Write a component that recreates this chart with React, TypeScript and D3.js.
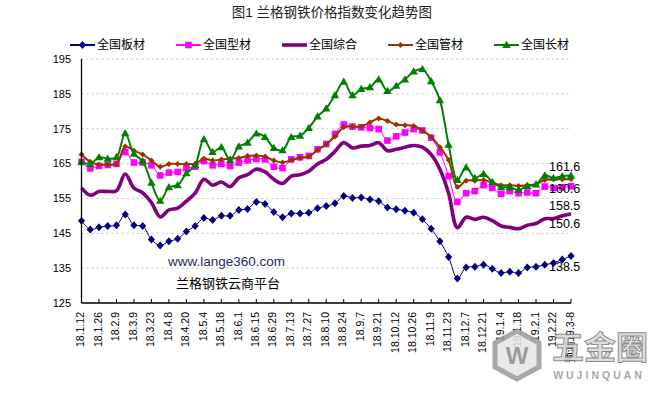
import React from "react";
import * as d3 from "d3";

// tick labels (every second weekly point gets one)
const tickLabels = [
  "18.1.12", "18.1.26", "18.2.9", "18.3.9", "18.3.23", "18.4.8", "18.4.20",
  "18.5.4", "18.5.18", "18.6.1", "18.6.15", "18.6.29", "18.7.13", "18.7.27",
  "18.8.10", "18.8.24", "18.9.7", "18.9.21", "18.10.12", "18.10.26", "18.11.9",
  "18.11.23", "18.12.7", "18.12.21", "19.1.4", "19.1.18", "19.2.1", "19.2.22",
  "预测19.3-8",
];

const plate = [
  148.6, 146.1, 146.7, 147.1, 147.3, 150.4, 147.3, 147.1, 143.2, 141.5,
  142.7, 143.4, 145.5, 147.1, 149.4, 148.8, 150.0, 150.0, 151.7, 152.0,
  154.0, 153.4, 151.1, 149.6, 150.7, 150.7, 150.9, 152.2, 152.8, 153.6,
  155.7, 155.1, 155.3, 154.7, 154.2, 152.4, 151.9, 151.5, 150.9, 149.0,
  146.3, 142.7, 138.2, 132.0, 135.2, 135.4, 136.0, 134.8, 133.6, 134.0,
  133.6, 135.2, 135.4, 136.0, 136.5, 137.5, 138.5,
];
const section = [
  165.5, 163.6, 164.3, 164.6, 164.9, 168.3, 165.3, 165.3, 164.5, 161.6,
  162.4, 162.6, 163.7, 164.1, 165.7, 164.5, 164.9, 164.3, 165.3, 165.9,
  166.3, 166.2, 164.1, 163.7, 166.2, 166.8, 167.2, 169.1, 170.6, 173.5,
  176.2, 175.6, 175.4, 175.2, 174.9, 171.6, 172.8, 173.9, 174.9, 174.5,
  172.4, 168.2, 161.4, 154.0, 156.5, 157.1, 158.8, 158.0, 156.3, 157.1,
  156.5, 156.7, 156.5, 158.4, 158.0, 158.2, 158.5,
];
const composite = [
  158.0, 155.9, 157.0, 157.0, 157.2, 162.0, 158.0, 156.6, 153.8, 149.7,
  151.7, 152.2, 154.2, 156.5, 160.5, 158.8, 159.7, 158.4, 160.9, 161.8,
  163.4, 162.6, 160.5, 159.3, 161.4, 161.8, 162.8, 164.9, 166.2, 168.5,
  171.0, 169.5, 170.0, 170.2, 171.0, 168.7, 169.1, 169.7, 170.2, 169.7,
  167.6, 163.4, 156.5, 146.6, 149.6, 149.0, 149.6, 148.6, 147.1, 146.7,
  146.3, 147.3, 147.8, 149.2, 149.2, 150.0, 150.6,
];
const pipe = [
  167.6, 165.5, 164.7, 164.7, 164.9, 169.9, 168.7, 167.6, 165.9, 164.1,
  164.9, 164.9, 164.9, 164.9, 166.4, 165.9, 166.2, 166.4, 166.6, 167.2,
  167.3, 167.0, 165.9, 165.3, 166.0, 166.6, 167.0, 168.9, 170.5, 172.8,
  175.4, 175.6, 175.6, 176.8, 177.9, 177.2, 176.2, 176.0, 175.8, 174.5,
  172.6, 169.7, 166.0, 158.3, 160.1, 160.1, 160.3, 159.5, 158.8, 158.8,
  158.6, 158.8, 159.1, 160.3, 160.5, 160.5, 160.6,
];
const longProd = [
  165.5, 164.9, 166.8, 166.4, 166.8, 173.7, 167.8, 165.7, 159.5, 154.3,
  158.2, 158.8, 162.2, 164.5, 172.0, 168.3, 169.7, 166.0, 169.9, 171.0,
  173.6, 172.6, 169.5, 168.8, 172.6, 173.0, 175.2, 178.5, 180.8, 184.6,
  188.5, 184.6, 186.4, 186.9, 189.1, 185.8, 187.3, 189.1, 191.4, 192.1,
  188.6, 183.2, 170.4, 160.3, 163.9, 160.9, 162.0, 159.7, 158.2, 158.2,
  157.4, 158.6, 159.0, 161.6, 160.9, 161.4, 161.6,
];

const yTicks = [125, 135, 145, 155, 165, 175, 185, 195];

const series = [
  { name: "全国板材", values: plate, color: "#000080", width: 1, marker: "diamond", labelDy: 11 },
  { name: "全国型材", values: section, color: "#ff00ff", width: 1, marker: "square", labelDy: 19 },
  { name: "全国综合", values: composite, color: "#800080", width: 3.6, marker: "none", labelDy: 9.5 },
  { name: "全国管材", values: pipe, color: "#993300", width: 2, marker: "smalldiamond", labelDy: 10 },
  { name: "全国长材", values: longProd, color: "#008000", width: 2, marker: "triangle", labelDy: -9 },
];

const markerPath = (type: string) => {
  if (type === "diamond") return "M0,-4L3.6,0L0,4L-3.6,0Z";
  if (type === "square") return "M-3.3,-3.3H3.3V3.3H-3.3Z";
  if (type === "smalldiamond") return "M0,-3L3,0L0,3L-3,0Z";
  if (type === "triangle") return "M0,-4.2L4.2,3L-4.2,3Z";
  return null;
};

const FONT = "'Liberation Sans', 'Noto Sans CJK SC', sans-serif";

export default function App() {
  const width = 665;
  const height = 395;
  const left = 81.5;
  const right = 571;
  const top = 59;
  const bottom = 303;

  const n = plate.length;
  const x = d3.scaleLinear().domain([0, n - 1]).range([left, right]);
  const y = d3.scaleLinear().domain([125, 195]).range([bottom, top]);

  const line = d3
    .line<number>()
    .x((d, i) => x(i))
    .y((d) => y(d))
    .curve(d3.curveCatmullRom.alpha(0.5));

  return (
    <svg
      width={width}
      height={height}
      style={{ position: "absolute", left: 0, top: 0, background: "#fff" }}
      fontFamily={FONT}
    >
      <rect width={width} height={height} fill="#fff" />
      {/* title */}
      <text x={332} y={17} textAnchor="middle" fontSize={13.5} fill="#222">
        图1  兰格钢铁价格指数变化趋势图
      </text>

      {/* legend */}
      {series.map((s, i) => {
        const lx = 70 + i * 106;
        const mp = markerPath(s.marker);
        return (
          <g key={s.name} transform={`translate(${lx},45)`}>
            <line x1={0} x2={25} y1={0} y2={0} stroke={s.color} strokeWidth={s.marker === "none" ? 3.6 : 2} />
            {mp && <path d={mp} transform="translate(12.5,0)" fill={s.color} />}
            <text x={27} y={0} dy="0.36em" fontSize={12} fill="#000">
              {s.name}
            </text>
          </g>
        );
      })}

      {/* grid */}
      {yTicks.slice(1).map((t) => (
        <line key={t} x1={left} x2={right} y1={y(t)} y2={y(t)} stroke="#c0c0c0" strokeDasharray="2,3" />
      ))}

      {/* y labels */}
      {yTicks.map((t) => (
        <text key={t} x={71} y={y(t)} dy="0.35em" textAnchor="end" fontSize={11} fill="#000">
          {t}
        </text>
      ))}

      {/* watermark text */}
      <text x={168} y={261} dy="0.35em" fontSize={13.5} fill="#1f2d5a">
        www.lange360.com
      </text>
      <text x={176} y={283} dy="0.35em" fontSize={13} fill="#000">
        兰格钢铁云商平台
      </text>

      {/* series */}
      {series.map((s) => {
        const mp = markerPath(s.marker);
        return (
          <g key={s.name}>
            <path d={line(s.values) || ""} fill="none" stroke={s.color} strokeWidth={s.width} strokeLinejoin="round" />
            {mp &&
              s.values.map((v, i) => (
                <path key={i} d={mp} transform={`translate(${x(i)},${y(v)})`} fill={s.color} />
              ))}
          </g>
        );
      })}

      {/* end labels */}
      {series.map((s) => {
        const v = s.values[n - 1];
        return (
          <text key={s.name} x={x(n - 1) - 22} y={y(v) + s.labelDy} dy="0.35em" fontSize={12.5} fill="#000">
            {v.toFixed(1)}
          </text>
        );
      })}

      {/* axes */}
      <line x1={left} x2={left} y1={top} y2={bottom} stroke="#000" strokeWidth={1.3} />
      <line x1={left} x2={right} y1={bottom} y2={bottom} stroke="#000" strokeWidth={1.3} />
      {tickLabels.map((lab, k) => {
        const tx = x(k * 2);
        return (
          <g key={lab}>
            {k > 0 && <line x1={tx} x2={tx} y1={bottom} y2={bottom - 4} stroke="#000" />}
            <text
              transform={`translate(${tx - 1},312) rotate(-90)`}
              dy="0.35em"
              textAnchor="end"
              fontSize={10.5}
              fill="#000"
            >
              {lab}
            </text>
          </g>
        );
      })}

      {/* host watermark */}
      <g opacity={0.85}>
        <path
          d="M517,331 L539,343 L539,367 L517,379 L495,367 L495,343 Z"
          fill="#e6e6e6"
          stroke="#9a9a9a"
          strokeWidth={5}
        />
        <text x={517} y={356} dy="0.35em" textAnchor="middle" fontSize={24} fontWeight="bold" fill="#8a8a8a">
          W
        </text>
        <text x={600} y={348} dy="0.35em" textAnchor="middle" fontSize={32} fontWeight="bold" fill="#d8d8d8" stroke="#7a7a7a" strokeWidth={1}>
          五金圈
        </text>
        <text x={599} y={375} dy="0.35em" textAnchor="middle" fontSize={10.5} fontWeight="bold" letterSpacing={3} fill="#9a9a9a">
          WUJINQUAN
        </text>
      </g>
    </svg>
  );
}
